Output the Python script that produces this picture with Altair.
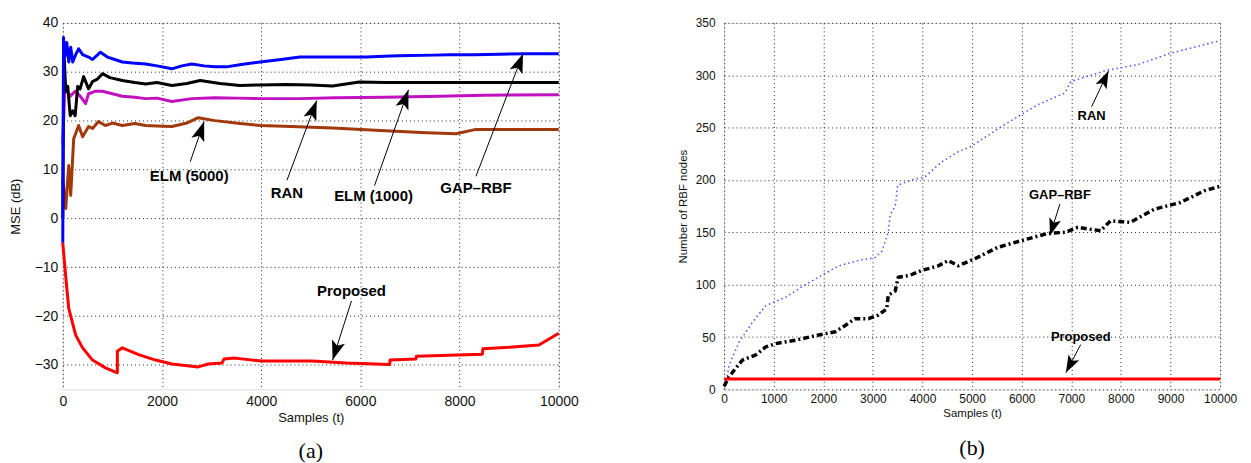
import math
import altair as alt
import pandas as pd

# ---------------- data: panel (a) MSE (dB) ----------------
gap_t = [0, 15, 40, 80, 120, 160, 200, 260, 320, 400, 520, 600, 760, 900, 1050, 1200, 1400, 1670, 1900, 2200,
         2400, 2600, 2850, 3070, 3300, 3600, 3980, 4400, 4780, 5200, 5600, 6120, 6600, 7000, 7500, 7790, 8300,
         8800, 9300, 10000]
gap_v = [-5, 37, 33, 36, 32, 35, 32, 33.5, 34.7, 33.5, 33, 32.5, 34, 33, 32.5, 32, 31.8, 31.6, 31.2, 30.6,
         31.2, 31.6, 31.2, 31.0, 31.0, 31.5, 32, 32.5, 33, 33, 33, 33, 33.2, 33.3, 33.4, 33.5, 33.5,
         33.6, 33.7, 33.7]

elm1000_t = [0, 20, 60, 100, 150, 200, 250, 300, 350, 420, 520, 600, 700, 800, 950, 1200, 1450, 1670, 1900,
             2200, 2500, 2770, 3170, 3570, 4000, 4500, 5000, 5440, 5980, 6500, 7000, 8000, 9000, 10000]
elm1000_v = [0, 35, 26, 27, 21, 22, 21, 27, 26.5, 29, 26.5, 28, 28.5, 29.6, 28.8, 28.2, 27.8, 27.5, 27.8,
             27.2, 27.6, 28.2, 27.6, 27.2, 27.3, 27.4, 27.3, 27.1, 27.9, 27.8, 27.8, 27.8, 27.8, 27.8]

ran_t = [0, 40, 80, 150, 250, 350, 460, 520, 650, 800, 1000, 1200, 1450, 1670, 1900, 2200, 2600, 3070, 3500,
         4000, 4780, 5500, 6500, 7600, 8500, 10000]
ran_v = [15, 27, 26, 25, 26, 25, 23.5, 25.5, 26, 26, 25.5, 25, 24.8, 24.5, 24.6, 23.9, 24.5, 24.7, 24.6,
         24.5, 24.5, 24.7, 24.8, 25, 25.2, 25.3]

elm5000_t = [0, 60, 120, 160, 220, 320, 400, 520, 600, 720, 860, 1000, 1200, 1450, 1670, 1900, 2200, 2500,
             2730, 3070, 3570, 3980, 4600, 5440, 6400, 7330, 7930, 8330, 9000, 10000]
elm5000_v = [8, 2, 10.8, 4.7, 16.3, 19, 16.7, 18.8, 18.4, 19.8, 19, 19.5, 19, 19.4, 19, 18.9, 18.8, 19.5,
             20.6, 20, 19.4, 19, 18.8, 18.5, 18, 17.5, 17.3, 18.2, 18.2, 18.2]

prop_t = [0, 60, 120, 260, 400, 600, 860, 1100, 1100, 1200, 1530, 1870, 2200, 2730, 2930, 3210, 3250, 3470,
          4010, 5020, 5720, 6590, 6600, 7120, 7130, 8460, 8470, 9000, 9600, 10000]
prop_v = [-5, -12, -18.4, -23.9, -26.5, -29, -30.6, -31.6, -27.2, -26.5, -27.9, -29, -29.8, -30.4, -29.8,
          -29.6, -28.8, -28.6, -29.2, -29.2, -29.6, -29.9, -29.0, -28.8, -28.2, -27.8, -26.7, -26.4, -25.9,
          -23.5]

# annotations (a): label, text (t, v), arrow start (t, v), arrow tip (t, v)
ann_a_label = ["ELM (5000)", "RAN", "ELM (1000)", "GAP\u2013RBF", "Proposed"]
ann_a_text_t = [2550, 4520, 6265, 8330, 5820]
ann_a_text_v = [8.6, 5.1, 4.5, 6.3, -14.9]
ann_a_from_t = [2570, 4520, 6285, 8330, 5820]
ann_a_from_v = [11.6, 7.8, 6.7, 8.6, -16.9]
ann_a_to_t = [2850, 5120, 6970, 9280, 5440]
ann_a_to_v = [19.8, 24.1, 26.3, 33.7, -29.0]

# ---------------- data: panel (b) number of RBF nodes ----------------
ranb_t = [0, 33, 100, 300, 570, 840, 1240, 1570, 2010, 2310, 2710, 3050, 3180, 3310, 3350, 3450, 3500, 3780,
          4050, 4380, 4720, 4980, 5660, 6330, 6870, 6990, 7730, 8330, 9000, 10000]
ranb_n = [0, 4, 23, 45, 64, 80, 88, 98, 110, 118, 123, 126, 132, 150, 167, 175, 195, 200, 203, 217, 227, 232,
          253, 272, 283, 294, 305, 310, 321, 333]

gapb_t = [0, 100, 230, 370, 640, 840, 1040, 1440, 1910, 2240, 2440, 2640, 2910, 3110, 3280, 3310, 3450, 3510,
          3750, 3980, 4320, 4520, 4720, 5050, 5520, 5990, 6530, 6870, 7130, 7590, 7790, 8190, 8670, 9200, 9680,
          10000]
gapb_n = [3, 12, 20, 28, 33, 40.6, 43.7, 47, 52, 55, 61, 67.5, 67.5, 71, 77, 90, 94, 107, 109, 113.5, 118, 123,
          118, 124.6, 135.7, 142, 149, 150, 154.7, 151.5, 161, 159.5, 172, 178.5, 189.6, 194]

propb_t = [0, 10000]
propb_n = [10, 10]

ann_b_label = ["RAN", "GAP\u2013RBF", "Proposed"]
ann_b_text_t = [7410, 6770, 7190]
ann_b_text_v = [261.5, 185.5, 50.4]
ann_b_from_t = [7410, 6770, 7190]
ann_b_from_v = [270, 177, 42.8]
ann_b_to_t = [7750, 6570, 6890]
ann_b_to_v = [304, 147, 16]

# ---------------- layout / style ----------------
W, H = 498, 368
FONT = "Liberation Sans"
A_DOM = [-35, 40]
B_DOM = [0, 350]
ARROW = "M0,0 L-0.7,2 L0,1.55 L0.7,2 Z"


def series_df(t, v, name):
    return pd.DataFrame({"t": t, "v": v, "s": name, "o": list(range(len(t)))})


def ann_df(label, tt, tv, ft, fv, et, ev, dom):
    rows = []
    for i in range(len(label)):
        dx = (et[i] - ft[i]) * W / 10000.0
        dy = -(ev[i] - fv[i]) * H / (dom[1] - dom[0])
        ang = math.degrees(math.atan2(dx, -dy)) % 360
        rows.append(dict(label=label[i], tt=tt[i], tv=tv[i], ft=ft[i], fv=fv[i], et=et[i], ev=ev[i], ang=ang))
    return pd.DataFrame(rows)


def panel(lines, ann, dom, yticks, xticks, ytitle, sub, lab_size, title_size, ann_size, arrow_size,
          ylp, ytp, xlp, xtp, sub_off):
    xs = alt.Scale(domain=[0, 10000], nice=False, zero=False)
    ys = alt.Scale(domain=dom, nice=False, zero=False)
    common = dict(labelFont=FONT, titleFont=FONT, labelColor="#111", titleColor="#111",
                  titleFontWeight="normal", labelFontSize=lab_size, titleFontSize=title_size,
                  ticks=False, tickSize=0, domain=False, grid=True, gridColor="#222",
                  gridDash=[1, 3], gridWidth=1, gridOpacity=1, labelFlush=False, labelOverlap=False)
    xax = alt.Axis(values=xticks, title="Samples (t)", format="d", labelPadding=xlp, titlePadding=xtp, **common)
    yax = alt.Axis(values=yticks, title=ytitle, labelPadding=ylp, titlePadding=ytp, **common)
    layers = []
    for df, color, width, dash in lines:
        kw = dict(color=color, strokeWidth=width, strokeJoin="round", strokeCap="butt")
        if dash:
            kw["strokeDash"] = dash
        layers.append(alt.Chart(df).mark_line(**kw).encode(
            x=alt.X("t:Q", scale=xs, axis=xax),
            y=alt.Y("v:Q", scale=ys, axis=yax),
            order="o:Q",
        ))
    base = alt.Chart(ann)
    layers.append(base.mark_rule(color="black", strokeWidth=1).encode(
        x=alt.X("ft:Q", scale=xs, axis=xax), y=alt.Y("fv:Q", scale=ys, axis=yax), x2="et:Q", y2="ev:Q"))
    layers.append(base.mark_point(shape=ARROW, filled=True, color="black", size=arrow_size, opacity=1,
                                  strokeWidth=0).encode(
        x=alt.X("et:Q", scale=xs, axis=xax), y=alt.Y("ev:Q", scale=ys, axis=yax),
        angle=alt.Angle("ang:Q", scale=None)))
    layers.append(base.mark_text(font=FONT, fontWeight="bold", fontSize=ann_size, color="black",
                                 baseline="middle", align="center").encode(
        x=alt.X("tt:Q", scale=xs, axis=xax), y=alt.Y("tv:Q", scale=ys, axis=yax), text="label:N"))
    return alt.layer(*layers).properties(
        width=W, height=H,
        title=alt.TitleParams(sub, orient="bottom", font="Liberation Serif", fontSize=22,
                              fontWeight="normal", color="black", offset=sub_off),
    )


left_lines = [
    (series_df(elm5000_t, elm5000_v, "ELM (5000)"), "#a1390b", 3, None),
    (series_df(ran_t, ran_v, "RAN"), "#c010c0", 3, None),
    (series_df(elm1000_t, elm1000_v, "ELM (1000)"), "#000000", 3, None),
    (series_df(gap_t, gap_v, "GAP-RBF"), "#0000ff", 3, None),
    (series_df(prop_t, prop_v, "Proposed"), "#ff0000", 3, None),
]
right_lines = [
    (series_df(ranb_t, ranb_n, "RAN"), "#4d4dff", 1.5, [1.5, 3]),
    (series_df(gapb_t, gapb_n, "GAP-RBF"), "#000000", 3.5, [6, 3, 2, 3]),
    (series_df(propb_t, propb_n, "Proposed"), "#ff0000", 3, None),
]

left = panel(left_lines,
             ann_df(ann_a_label, ann_a_text_t, ann_a_text_v, ann_a_from_t, ann_a_from_v, ann_a_to_t, ann_a_to_v, A_DOM),
             A_DOM, list(range(-30, 41, 10)), list(range(0, 10001, 2000)), "MSE (dB)", "(a)",
             14, 13, 15, 380, 5, 12, 5, 3, 17)
right = panel(right_lines,
              ann_df(ann_b_label, ann_b_text_t, ann_b_text_v, ann_b_from_t, ann_b_from_v, ann_b_to_t, ann_b_to_v, B_DOM),
              B_DOM, list(range(0, 351, 50)), list(range(0, 10001, 1000)), "Number of RBF nodes", "(b)",
              12, 11.5, 13, 300, 9, 7, 4, 3, 19)

chart = alt.hconcat(left, right, spacing=166, bounds="flush").properties(
    padding={"left": 0, "top": 6, "right": 5, "bottom": 5}
).configure_view(
    stroke="black", strokeWidth=1.5
).configure(background="white")

chart.save("out.html", embed_options={"renderer": "svg", "actions": False})
